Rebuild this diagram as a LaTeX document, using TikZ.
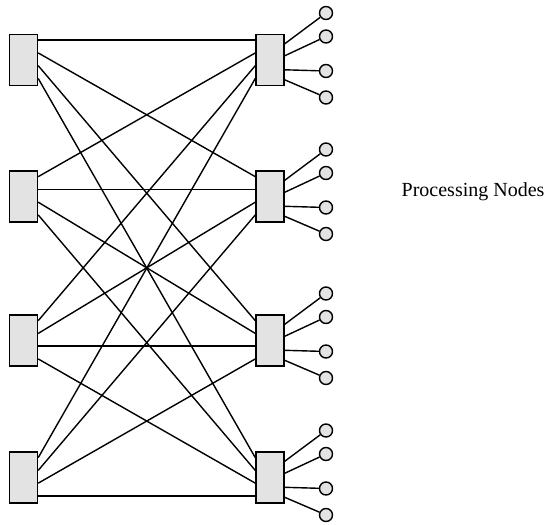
\documentclass[tikz,border=0pt]{standalone}
\usepackage{fontspec}
\setmainfont{Liberation Serif}
\usepackage{tikz}

\begin{document}
\begin{tikzpicture}[x=1pt, y=-1pt, line width=1.4pt,
  hub/.style={draw, fill=gray!22, minimum width=28pt, minimum height=51pt, inner sep=0pt},
  pe/.style={draw, circle, fill=gray!22, minimum size=13pt, inner sep=0pt}]
  \useasboundingbox (0,0) rectangle (548,524);

  % switch columns
  \foreach \i/\y in {1/60, 2/196.5, 3/340.5, 4/477.5} {
    \node (L\i) [hub] at (23.5,\y) {};
    \node (R\i) [hub] at (270,\y) {};
  }

  % full crossbar between the two columns
  \foreach \i in {1,...,4}
    \foreach \j in {1,...,4}
      \draw ([yshift={-(\j-0.5)*12.75}]L\i.north east) -- ([yshift={-(\i-0.5)*12.75}]R\j.north west);

  % processing nodes
  \foreach \j/\y in {1/60, 2/196.5, 3/340.5, 4/477.5}
    \foreach \k/\dy/\off in {1/-47/10, 2/-23.5/22, 3/11/36, 4/37.5/46} {
      \node (C\j\k) [pe] at (326,\y+\dy) {};
      \draw ([yshift=-\off]R\j.north east) -- (C\j\k);
    }

  \node (lbl) [anchor=base west, inner sep=0pt, font=\fontsize{20}{24}\selectfont] at (401,196) {Processing Nodes};
\end{tikzpicture}
\end{document}
